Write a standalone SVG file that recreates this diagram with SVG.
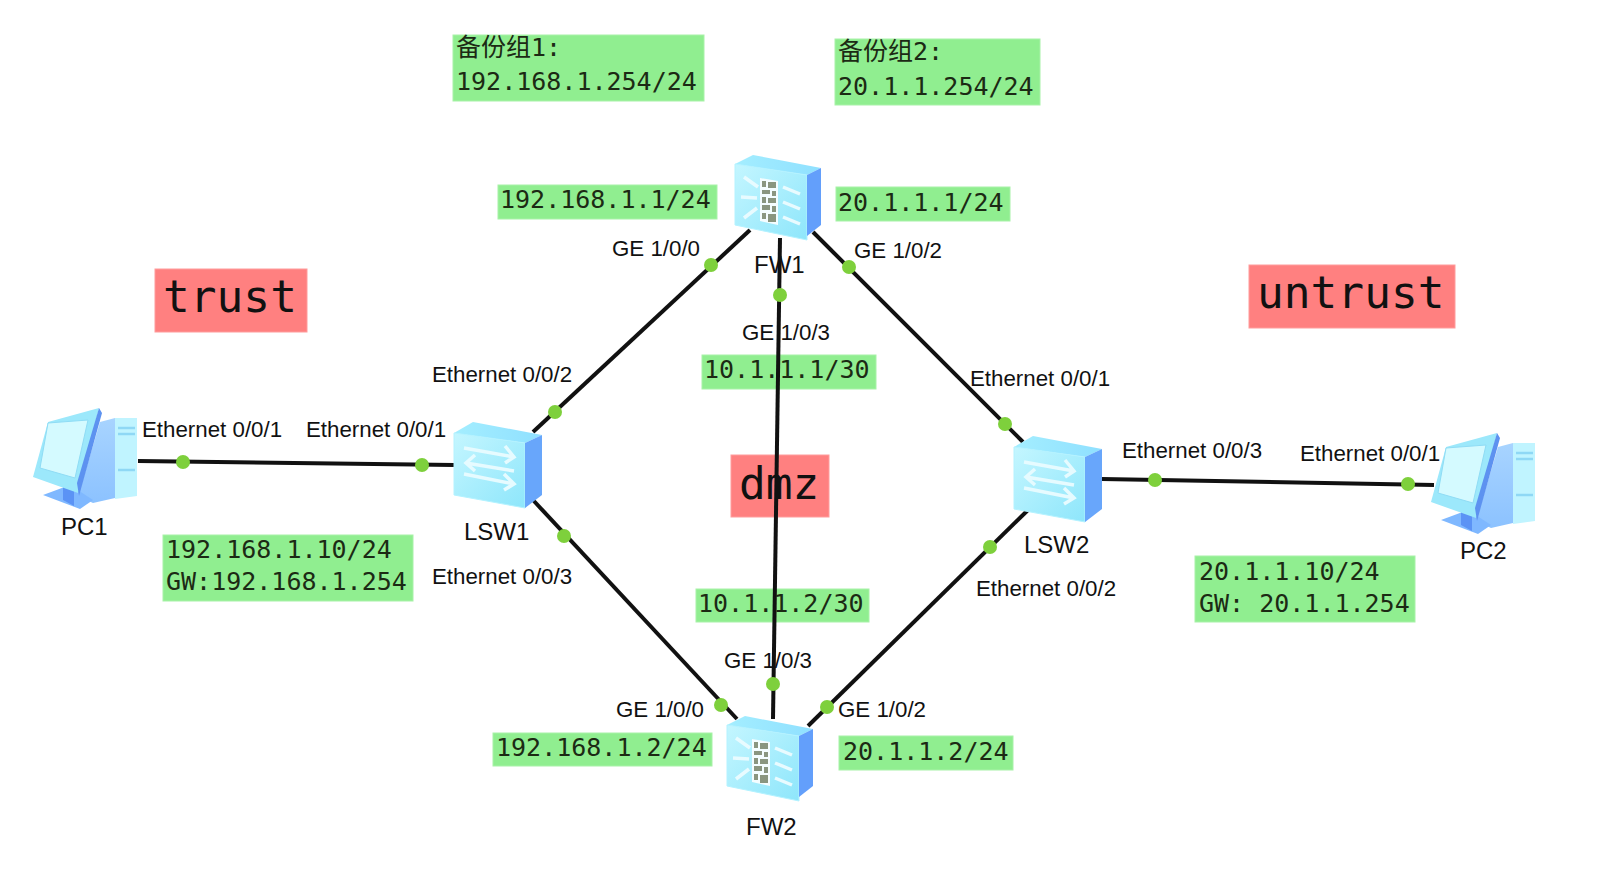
<svg xmlns="http://www.w3.org/2000/svg" width="1600" height="881" viewBox="0 0 1600 881">
<style>
.box{fill:#90ee90;stroke:#a8f2a8;stroke-width:1}
.zone{fill:#ff8080;stroke:#ff9c9c;stroke-width:1}
.m{font-family:"DejaVu Sans Mono","Liberation Mono",monospace;font-size:25px;fill:#1c2a14}
.c{font-family:"Noto Sans CJK SC","DejaVu Sans",sans-serif;font-size:25px;fill:#1c2a14}
.z{font-family:"DejaVu Sans Mono","Liberation Mono",monospace;font-size:44.5px;fill:#111}
.l{font-family:"Liberation Sans",Arial,sans-serif;font-size:22.3px;fill:#111}
.n{font-family:"Liberation Sans",Arial,sans-serif;font-size:24px;fill:#111}
.ln{stroke:#111;stroke-width:4;fill:none}
.d{fill:#7ed03c}
</style>
<defs>
<linearGradient id="front" x1="0" y1="0" x2="1" y2="1"><stop offset="0" stop-color="#c4f6ff"/><stop offset="1" stop-color="#8ee6fb"/></linearGradient>
<linearGradient id="top" x1="0" y1="0" x2="1" y2="0"><stop offset="0" stop-color="#a4eeff"/><stop offset="1" stop-color="#8fe0ff"/></linearGradient>
<linearGradient id="tw" x1="0" y1="0" x2="0" y2="1"><stop offset="0" stop-color="#a8d4ff"/><stop offset="1" stop-color="#8cc2ff"/></linearGradient>
<g id="fw">
<polygon points="0,9 18,0 86,13 72,20" fill="url(#top)"/>
<polygon points="0,9 72,20 72,85 0,70" fill="url(#front)" stroke="#b4f2ff"/>
<polygon points="72,20 86,13 86,70 72,81" fill="#639ffb"/>
<g fill="none" stroke="#e8fbff" stroke-width="3.5">
<path d="M9 22l14 10M6 42l16 1M9 63l13-10M48 32l17 7M48 47l17 7M48 62l17 7"/>
</g>
<polygon points="25,23 43,26 43,70 25,66" fill="#f4fdff"/>
<g fill="#8a9680"><rect x="27" y="26" width="4" height="6"/><rect x="33" y="27" width="8" height="6"/><rect x="27" y="35" width="8" height="4"/><rect x="37" y="36" width="4" height="5"/><rect x="27" y="42" width="4" height="6"/><rect x="33" y="43" width="8" height="5"/><rect x="27" y="50" width="8" height="5"/><rect x="37" y="51" width="4" height="6"/><rect x="27" y="58" width="4" height="6"/><rect x="33" y="59" width="8" height="8"/></g>
</g>
<g id="sw">
<polygon points="0,11 19,0 88,13 71,21" fill="url(#top)"/>
<polygon points="0,11 71,21 71,86 0,73" fill="url(#front)" stroke="#b4f2ff"/>
<polygon points="71,21 88,13 88,73 71,86" fill="#68a6fb"/>
<g fill="none" stroke="#e6fbff" stroke-width="3.5">
<path d="M10 26l50 9M51 24l9 11-9 6M60 49l-48-8M21 33l-9 8 9 8M10 52l50 10M50 52l10 10-10 6"/>
</g>
</g>
<g id="pc">
<polygon points="67,14 82,10 82,90 60,95 45,88" fill="url(#tw)"/>
<polygon points="82,10 104,10 104,88 82,91" fill="#c0f4ff"/>
<path d="M85 20h17M85 26h17M85 62h17" stroke="#8fd8f5" stroke-width="2.5"/>
<polygon points="10,87 37,77 60,92 47,101" fill="#7fb8ff"/>
<polygon points="30,77 41,77 41,98 30,92" fill="#5b93f5"/>
<polygon points="0,69 15,14 66,0 45,85" fill="#9ce8fb"/>
<polygon points="7,60 15,15 55,12 42,70" fill="#d4faff" stroke="#8fdcf5"/>
<polygon points="66,0 69,5 46,88 44,75" fill="#5d92f0"/>
</g>
</defs>
<rect width="1600" height="881" fill="#fff"/>
<g id="backgrounds">
<rect class="box" x="453" y="35" width="251" height="66"/>
<rect class="box" x="835" y="39" width="205" height="66"/>
<rect class="box" x="498" y="185" width="219" height="34"/>
<rect class="box" x="836" y="187" width="174" height="34"/>
<rect class="box" x="702" y="355" width="174" height="34"/>
<rect class="box" x="696" y="589" width="173" height="33"/>
<rect class="box" x="493" y="733" width="219" height="33"/>
<rect class="box" x="839" y="736" width="174" height="34"/>
<rect class="box" x="163" y="535" width="250" height="66"/>
<rect class="box" x="1195" y="556" width="220" height="66"/>
<rect class="zone" x="155" y="269" width="152" height="63"/>
<rect class="zone" x="1249" y="265" width="206" height="63"/>
<rect class="zone" x="731" y="455" width="98" height="62"/>
</g>
<g id="connectors">
<line class="ln" x1="138" y1="461" x2="454" y2="465"/>
<line class="ln" x1="533" y1="432" x2="750" y2="230"/>
<line class="ln" x1="813" y1="232" x2="1023" y2="442"/>
<line class="ln" x1="780" y1="238" x2="773" y2="719"/>
<line class="ln" x1="533" y1="500" x2="737" y2="719"/>
<line class="ln" x1="1028" y1="510" x2="808" y2="726"/>
<line class="ln" x1="1102" y1="479" x2="1434" y2="485"/>
<g class="d">
<circle cx="183" cy="462" r="7"/><circle cx="422" cy="465" r="7"/>
<circle cx="555" cy="412" r="7"/><circle cx="711" cy="265" r="7"/>
<circle cx="849" cy="267" r="7"/><circle cx="1005" cy="424" r="7"/>
<circle cx="780" cy="295" r="7"/><circle cx="773" cy="684" r="7"/>
<circle cx="564" cy="536" r="7"/><circle cx="721" cy="705" r="7"/>
<circle cx="990" cy="547" r="7"/><circle cx="827" cy="707" r="7"/>
<circle cx="1155" cy="480" r="7"/><circle cx="1408" cy="484" r="7"/>
</g>
</g>
<g id="FW1"><use href="#fw" x="735" y="155"/><text class="n" x="754" y="273">FW1</text></g>
<g id="FW2"><use href="#fw" x="727" y="716"/><text class="n" x="746" y="835">FW2</text></g>
<g id="LSW1"><use href="#sw" x="454" y="422"/><text class="n" x="464" y="540">LSW1</text></g>
<g id="LSW2"><use href="#sw" x="1014" y="436"/><text class="n" x="1024" y="553">LSW2</text></g>
<g id="PC1"><use href="#pc" x="33" y="408"/><text class="n" x="61" y="535">PC1</text></g>
<g id="PC2"><use href="#pc" x="1431" y="433"/><text class="n" x="1460" y="559">PC2</text></g>
<g id="labels">
<text class="c" x="456" y="56">备份组<tspan class="m">1:</tspan></text>
<text class="m" x="456" y="90">192.168.1.254/24</text>
<text class="c" x="838" y="60">备份组<tspan class="m">2:</tspan></text>
<text class="m" x="838" y="95">20.1.1.254/24</text>
<text class="m" x="500" y="208">192.168.1.1/24</text>
<text class="m" x="838" y="211">20.1.1.1/24</text>
<text class="m" x="704" y="378">10.1.1.1/30</text>
<text class="m" x="698" y="612">10.1.1.2/30</text>
<text class="m" x="496" y="756">192.168.1.2/24</text>
<text class="m" x="843" y="760">20.1.1.2/24</text>
<text class="m" x="166" y="558">192.168.1.10/24</text>
<text class="m" x="166" y="590">GW:192.168.1.254</text>
<text class="m" x="1199" y="580">20.1.1.10/24</text>
<text class="m" x="1199" y="612">GW: 20.1.1.254</text>
<text class="z" x="163" y="312">trust</text>
<text class="z" x="1257" y="308">untrust</text>
<text class="z" x="739" y="499">dmz</text>
<text class="l" x="612" y="256">GE 1/0/0</text>
<text class="l" x="854" y="258">GE 1/0/2</text>
<text class="l" x="742" y="340">GE 1/0/3</text>
<text class="l" x="432" y="382">Ethernet 0/0/2</text>
<text class="l" x="970" y="386">Ethernet 0/0/1</text>
<text class="l" x="142" y="437">Ethernet 0/0/1</text>
<text class="l" x="306" y="437">Ethernet 0/0/1</text>
<text class="l" x="432" y="584">Ethernet 0/0/3</text>
<text class="l" x="1122" y="458">Ethernet 0/0/3</text>
<text class="l" x="1300" y="461">Ethernet 0/0/1</text>
<text class="l" x="976" y="596">Ethernet 0/0/2</text>
<text class="l" x="724" y="668">GE 1/0/3</text>
<text class="l" x="616" y="717">GE 1/0/0</text>
<text class="l" x="838" y="717">GE 1/0/2</text>
</g>
</svg>
